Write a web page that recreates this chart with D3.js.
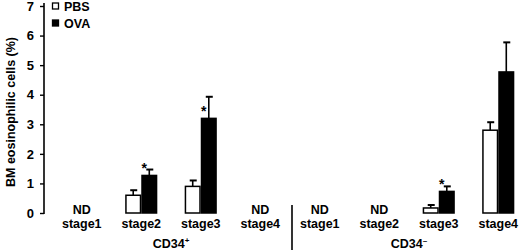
<!DOCTYPE html>
<html>
<head>
<meta charset="utf-8">
<script src="https://cdn.jsdelivr.net/npm/d3@7"></script>
<style>
  body { margin: 0; background: #fff; }
  svg { display: block; font-family: "Liberation Sans", Arial, sans-serif; font-weight: bold; }
</style>
</head>
<body>
<svg id="chart" width="520" height="250"></svg>
<script>
// categories: 4 stages for CD34+ then 4 for CD34-
const groups = ['CD34+', 'CD34-'];
const categories = ['p1', 'p2', 'p3', 'p4', 'n1', 'n2', 'n3', 'n4'];
const stageLabels = ['stage1', 'stage2', 'stage3', 'stage4', 'stage1', 'stage2', 'stage3', 'stage4'];
// null = not detected (ND)
const pbsMean = [null, 0.6, 0.9, null, null, null, 0.17, 2.8];
const pbsErr  = [null, 0.77, 1.1, null, null, null, 0.27, 3.07];
const ovaMean = [null, 1.27, 3.2, null, null, null, 0.73, 4.77];
const ovaErr  = [null, 1.47, 3.93, null, null, null, 0.9, 5.77];
const significant = [false, true, true, false, false, false, true, false];
const yTicks = [0, 1, 2, 3, 4, 5, 6, 7];

const svg = d3.select('#chart');
const y = d3.scaleLinear().domain([0, 7]).range([213, 6]);
const x = d3.scaleBand().domain(categories).range([52, 528]).paddingInner(0.46).paddingOuter(0.23);
const half = x.bandwidth() / 2;

// y axis
const yAxis = svg.append('g')
  .attr('transform', 'translate(44,0)')
  .call(d3.axisLeft(y).tickValues(yTicks).tickFormat(d3.format('d')).tickSize(4).tickSizeOuter(0));
yAxis.select('.domain').attr('stroke', '#000').attr('stroke-width', 1.6).attr('d', `M0,${y(0) + 1}V3`);
yAxis.selectAll('.tick line').attr('stroke', '#000').attr('stroke-width', 1.4);
yAxis.selectAll('.tick text')
  .attr('font-size', 13).attr('font-weight', 'bold').attr('font-family', '"Liberation Sans", Arial, sans-serif')
  .attr('fill', '#000').attr('x', -10);

svg.append('text')
  .attr('transform', 'translate(15,112) rotate(-90)')
  .attr('text-anchor', 'middle')
  .attr('font-size', 12.5)
  .text('BM eosinophilic cells (%)');

// bars
function drawSeries(means, errs, offset, fill) {
  const g = svg.append('g');
  categories.forEach((c, i) => {
    if (means[i] == null) return;
    const x0 = x(c) + offset;
    const xm = x0 + half / 2;
    g.append('line')
      .attr('x1', xm).attr('x2', xm)
      .attr('y1', y(means[i])).attr('y2', y(errs[i]))
      .attr('stroke', '#000').attr('stroke-width', 1.6);
    g.append('line')
      .attr('x1', xm - 3).attr('x2', xm + 4)
      .attr('y1', y(errs[i])).attr('y2', y(errs[i]))
      .attr('stroke', '#000').attr('stroke-width', 2);
    g.append('rect')
      .attr('x', x0 + 0.75).attr('y', y(means[i]))
      .attr('width', half - 1.5).attr('height', y(0) - y(means[i]))
      .attr('fill', fill).attr('stroke', '#000').attr('stroke-width', 1.5);
  });
}
drawSeries(pbsMean, pbsErr, 0, '#fff');
drawSeries(ovaMean, ovaErr, half, '#000');

// significance stars, just above the left edge of the OVA bar
categories.forEach((c, i) => {
  if (!significant[i]) return;
  svg.append('text')
    .attr('x', x(c) + half + 3)
    .attr('y', y(ovaMean[i]) - 2)
    .attr('text-anchor', 'middle')
    .attr('font-size', 14)
    .text('*');
});

// category labels
categories.forEach((c, i) => {
  const cx = x(c) + x.bandwidth() / 2;
  if (pbsMean[i] == null) {
    svg.append('text').attr('x', cx).attr('y', 214).attr('text-anchor', 'middle').attr('font-size', 12.5).text('ND');
  }
  svg.append('text').attr('x', cx).attr('y', 228).attr('text-anchor', 'middle').attr('font-size', 12.5).text(stageLabels[i]);
});

// group labels
const groupCenters = [
  (x('p2') + x('p3') + x.bandwidth()) / 2,
  (x('n2') + x('n3') + x.bandwidth()) / 2
];
groups.forEach((gname, i) => {
  const t = svg.append('text').attr('x', groupCenters[i]).attr('y', 248).attr('text-anchor', 'middle').attr('font-size', 12.5);
  t.append('tspan').text('CD34');
  t.append('tspan').attr('dy', -5).attr('font-size', 8).text(gname.endsWith('+') ? '+' : '\u2013');
});

// separator between groups, a little right of the gap centre as in the original
const sepX = (x('p4') + x.bandwidth() + x('n1')) / 2 + 2;
svg.append('line').attr('x1', sepX).attr('x2', sepX).attr('y1', 205).attr('y2', 250)
  .attr('stroke', '#000').attr('stroke-width', 1.6);

// legend
const legendItems = [['PBS', '#fff'], ['OVA', '#000']];
legendItems.forEach(([name, fill], i) => {
  const ly = 3 + i * 17;
  svg.append('rect').attr('x', 52.5).attr('y', ly).attr('width', 6).attr('height', 6)
    .attr('fill', fill).attr('stroke', '#000').attr('stroke-width', 1.3);
  svg.append('text').attr('x', 64).attr('y', ly + 7.5).attr('font-size', 12.5).text(name);
});
</script>
</body>
</html>
